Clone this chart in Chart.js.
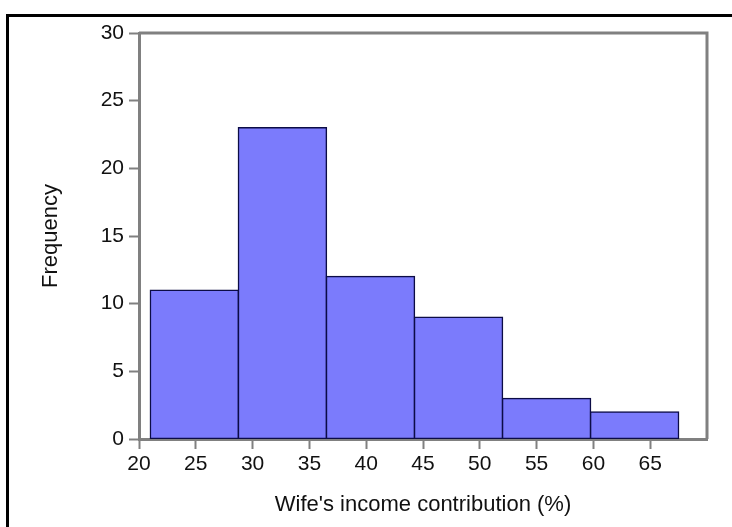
<!DOCTYPE html>
<html>
<head>
<meta charset="utf-8">
<script src="https://cdn.jsdelivr.net/npm/chart.js@4.4.1/dist/chart.umd.min.js"></script>
<style>
  html, body { margin: 0; padding: 0; background: #fff; overflow: hidden; }
  #wrap { position: relative; width: 732px; height: 527px; }
  #frame { position: absolute; left: 6px; top: 14px; width: 900px; height: 700px;
           border-left: 3px solid #000; border-top: 3px solid #000; pointer-events: none; }
  canvas { position: absolute; left: 0; top: 0; }
</style>
</head>
<body>
<div id="wrap">
  <canvas id="c" width="732" height="527"></canvas>
  <div id="frame"></div>
</div>
<script>
// Histogram data (bin centres, width 7.75)
const binWidth = 7.75;
const binCenters = [24.875, 32.625, 40.375, 48.125, 55.875, 63.625];
const frequencies = [11, 23, 12, 9, 3, 2];
const xTickValues = [20, 25, 30, 35, 40, 45, 50, 55, 60, 65];
const yTickValues = [0, 5, 10, 15, 20, 25, 30];
const xTitle = "Wife's income contribution (%)";
const yTitle = "Frequency";

const xTickStep = xTickValues[1] - xTickValues[0];
const AXIS_GRAY = '#808080';
const FONT = "'Liberation Sans', Arial, Helvetica, sans-serif";

const framePlugin = {
  id: 'frameBox',
  afterDatasetsDraw(chart) {
    const {ctx, chartArea: a} = chart;
    ctx.save();
    ctx.strokeStyle = AXIS_GRAY;
    ctx.lineWidth = 3;
    ctx.beginPath();
    ctx.moveTo(a.left, a.top);
    ctx.lineTo(a.right, a.top);
    ctx.lineTo(a.right, a.bottom);
    ctx.stroke();
    ctx.restore();
  }
};

new Chart(document.getElementById('c'), {
  type: 'bar',
  data: {
    datasets: [{
      data: binCenters.map((x, i) => ({x: x, y: frequencies[i]})),
      backgroundColor: 'rgb(123,123,252)',
      borderColor: 'rgb(12,12,70)',
      borderWidth: 1.5,
      borderSkipped: false,
      inflateAmount: 0.75,
      // bar sizing base is the smallest pixel gap (the tick step), so scale to the bin width
      barPercentage: binWidth / xTickStep,
      categoryPercentage: 1.0
    }]
  },
  options: {
    responsive: false,
    animation: false,
    devicePixelRatio: 1,
    layout: { padding: { left: 0, top: 33, right: 25, bottom: 0 } },
    plugins: { legend: { display: false }, tooltip: { enabled: false } },
    scales: {
      x: {
        type: 'linear',
        min: 20, max: 70,
        offset: false,
        afterBuildTicks: (s) => { s.ticks = xTickValues.map(v => ({value: v})); },
        afterFit: (s) => { s.height = 88; },
        ticks: {
          color: '#111',
          font: { family: FONT, size: 21 },
          padding: 3,
          maxRotation: 0,
          autoSkip: false
        },
        grid: {
          display: true, drawOnChartArea: false, drawTicks: true,
          tickLength: 10, tickColor: AXIS_GRAY, tickWidth: 2, offset: false
        },
        border: { display: true, color: AXIS_GRAY, width: 3 },
        title: {
          display: true, text: xTitle, color: '#111',
          font: { family: FONT, size: 22 },
          padding: { top: 0, bottom: 9 }
        }
      },
      y: {
        type: 'linear',
        min: 0, max: 30,
        afterBuildTicks: (s) => { s.ticks = yTickValues.map(v => ({value: v})); },
        afterFit: (s) => { s.width = 139; },
        ticks: {
          color: '#111',
          font: { family: FONT, size: 21 },
          padding: 5,
          autoSkip: false
        },
        grid: {
          display: true, drawOnChartArea: false, drawTicks: true,
          tickLength: 10, tickColor: AXIS_GRAY, tickWidth: 2
        },
        border: { display: true, color: AXIS_GRAY, width: 3 },
        title: {
          display: true, text: yTitle, color: '#111',
          font: { family: FONT, size: 22 },
          padding: { top: 38, bottom: 0 }
        }
      }
    }
  },
  plugins: [framePlugin]
});
</script>
</body>
</html>
